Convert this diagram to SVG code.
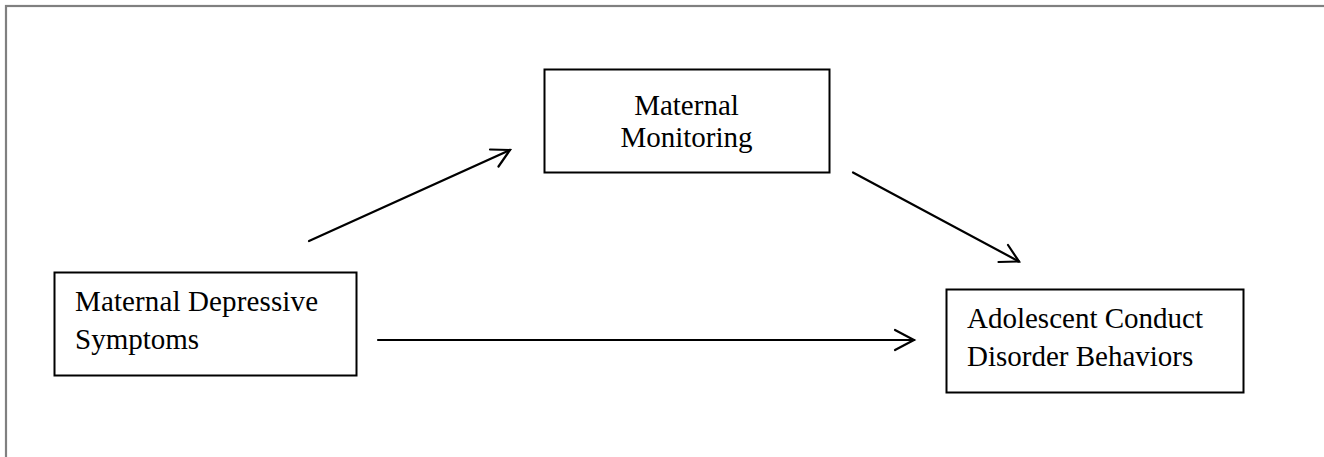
<svg xmlns="http://www.w3.org/2000/svg" width="1324" height="457" viewBox="0 0 1324 457">
<defs>
<style>
.box{fill:#fff;stroke:#000;stroke-width:2}
.lbl{font-family:"Liberation Serif","Times New Roman",serif;font-size:29px;fill:#000}
.conn{stroke:#000;stroke-width:2.2;fill:none;stroke-linecap:round}
.head{stroke:#000;stroke-width:2.2;fill:none;stroke-linecap:round;stroke-linejoin:miter}
</style>
</defs>
<rect x="0" y="0" width="1324" height="457" fill="#fff"/>
<rect x="6" y="6" width="1340" height="480" fill="none" stroke="#808080" stroke-width="2.2"/>
<g id="node-depressive">
<rect class="box" x="54.5" y="272.5" width="302" height="103"/>
<text class="lbl" x="75" y="310.5" textLength="243" lengthAdjust="spacing">Maternal Depressive</text>
<text class="lbl" x="75" y="349">Symptoms</text>
</g>
<g id="node-monitoring">
<rect class="box" x="544.5" y="69.5" width="285" height="103"/>
<text class="lbl" x="686.5" y="114.5" text-anchor="middle">Maternal</text>
<text class="lbl" x="686.5" y="147" text-anchor="middle">Monitoring</text>
</g>
<g id="node-conduct">
<rect class="box" x="946.5" y="289.5" width="297" height="103"/>
<text class="lbl" x="967" y="327.5">Adolescent Conduct</text>
<text class="lbl" x="967" y="366">Disorder Behaviors</text>
</g>
<g id="connectors">
<line class="conn" x1="309" y1="241" x2="510" y2="150"/>
<polyline class="head" points="490,149.5 510,150 498.5,166.5"/>
<line class="conn" x1="853" y1="172.5" x2="1019" y2="261.5"/>
<polyline class="head" points="1008,245 1019,261.5 998.5,262"/>
<line class="conn" x1="378" y1="340" x2="914" y2="340"/>
<polyline class="head" points="895,330 914,340 895,350"/>
</g>
</svg>
